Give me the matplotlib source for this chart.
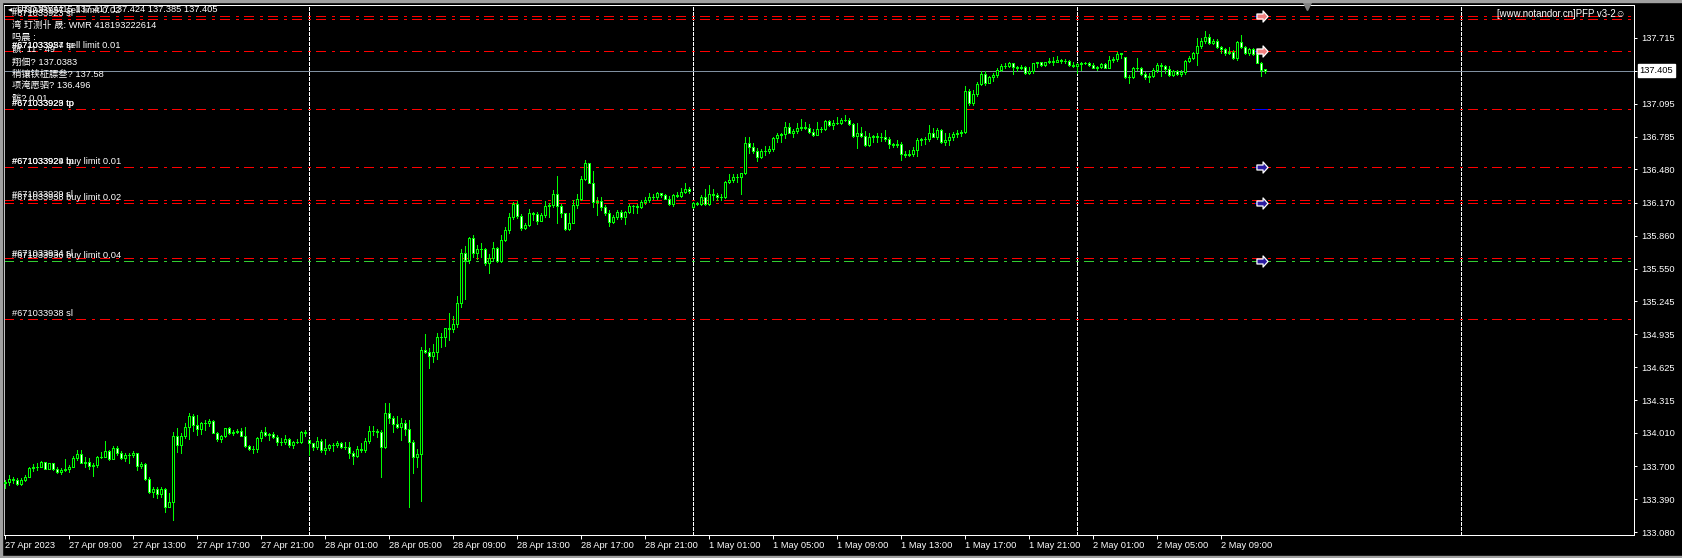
import numpy as np
import pandas as pd
import matplotlib
matplotlib.use("Agg")
import matplotlib.pyplot as plt
from matplotlib.path import Path
from matplotlib.patches import Rectangle
from matplotlib.transforms import blended_transform_factory

plt.rcParams['font.family'] = ['Liberation Sans', 'Noto Sans CJK SC', 'DejaVu Sans']
plt.rcParams['lines.scale_dashes'] = False

# ---- USDJPY M15 bars ----
opens = [
    133.539, 133.548, 133.576, 133.573, 133.529, 133.570, 133.601, 133.679, 133.689, 133.692,
    133.739, 133.676, 133.726, 133.673, 133.642, 133.664, 133.670, 133.695, 133.773, 133.810,
    133.732, 133.742, 133.704, 133.710, 133.782, 133.789, 133.842, 133.767, 133.867, 133.820,
    133.776, 133.804, 133.807, 133.820, 133.704, 133.717, 133.579, 133.460, 133.482, 133.438,
    133.485, 133.320, 133.360, 133.982, 133.898, 133.982, 134.064, 134.170, 134.085, 134.045,
    134.101, 134.107, 134.123, 134.014, 133.951, 133.982, 134.054, 134.007, 134.023, 134.029,
    133.985, 133.885, 133.857, 133.860, 133.963, 134.023, 133.991, 133.998, 133.976, 133.929,
    133.926, 133.954, 133.898, 133.923, 133.923, 134.016, 133.945, 133.913, 133.882, 133.935,
    133.851, 133.866, 133.898, 133.901, 133.913, 133.882, 133.876, 133.826, 133.798, 133.857,
    133.851, 133.935, 134.032, 134.032, 134.023, 133.876, 134.195, 134.148, 134.095, 134.063,
    134.101, 134.045, 133.929, 133.788, 133.810, 134.788, 134.772, 134.735, 134.766, 134.913,
    134.907, 134.991, 134.985, 135.032, 135.225, 135.700, 135.631, 135.835, 135.694, 135.731,
    135.731, 135.607, 135.647, 135.741, 135.625, 135.819, 135.913, 136.031, 136.156, 136.044,
    135.928, 135.956, 136.069, 136.063, 135.999, 136.053, 136.138, 136.144, 136.247, 136.138,
    136.069, 135.919, 135.981, 136.147, 136.200, 136.390, 136.537, 136.356, 136.178, 136.184,
    136.125, 136.075, 135.991, 136.031, 136.084, 136.031, 136.084, 136.138, 136.138, 136.131,
    136.172, 136.194, 136.225, 136.225, 136.256, 136.241, 136.206, 136.153, 136.241, 136.235,
    136.272, 136.294, 136.125, 136.163, 136.159, 136.225, 136.153, 136.247, 136.244, 136.219,
    136.219, 136.362, 136.381, 136.406, 136.406, 136.444, 136.725, 136.687, 136.656, 136.600,
    136.656, 136.650, 136.672, 136.772, 136.803, 136.813, 136.875, 136.825, 136.841, 136.866,
    136.875, 136.869, 136.834, 136.803, 136.856, 136.860, 136.938, 136.897, 136.913, 136.919,
    136.944, 136.947, 136.906, 136.794, 136.819, 136.794, 136.709, 136.781, 136.791, 136.781,
    136.781, 136.763, 136.716, 136.709, 136.719, 136.622, 136.616, 136.622, 136.663, 136.756,
    136.763, 136.763, 136.819, 136.788, 136.850, 136.741, 136.756, 136.781, 136.813, 136.825,
    136.834, 137.219, 137.106, 137.188, 137.281, 137.375, 137.294, 137.344, 137.366, 137.413,
    137.450, 137.450, 137.475, 137.438, 137.428, 137.444, 137.387, 137.406, 137.475, 137.484,
    137.459, 137.484, 137.497, 137.491, 137.506, 137.497, 137.500, 137.459, 137.453, 137.469,
    137.481, 137.481, 137.459, 137.434, 137.444, 137.469, 137.434, 137.506, 137.512, 137.562,
    137.531, 137.344, 137.344, 137.428, 137.428, 137.372, 137.344, 137.356, 137.412, 137.459,
    137.450, 137.419, 137.366, 137.406, 137.375, 137.391, 137.500, 137.528, 137.575, 137.637,
    137.688, 137.725, 137.669, 137.688, 137.625, 137.606, 137.569, 137.584, 137.522, 137.678,
    137.625, 137.569, 137.606, 137.562, 137.481, 137.417,
]
highs = [
    133.570, 133.613, 133.601, 133.585, 133.585, 133.617, 133.695, 133.717, 133.726, 133.751,
    133.742, 133.732, 133.732, 133.695, 133.679, 133.764, 133.710, 133.795, 133.851, 133.851,
    133.782, 133.773, 133.726, 133.795, 133.835, 133.935, 133.851, 133.889, 133.889, 133.842,
    133.820, 133.820, 133.842, 133.826, 133.742, 133.726, 133.595, 133.507, 133.507, 133.507,
    133.492, 133.451, 134.023, 134.054, 134.007, 134.101, 134.195, 134.189, 134.179, 134.117,
    134.132, 134.139, 134.132, 134.023, 133.992, 134.060, 134.064, 134.039, 134.045, 134.054,
    134.070, 133.901, 133.889, 133.976, 134.038, 134.070, 134.013, 134.016, 133.991, 133.960,
    133.991, 133.966, 133.938, 133.951, 134.029, 134.038, 133.951, 133.920, 133.976, 133.951,
    133.954, 133.907, 133.913, 133.935, 133.929, 133.929, 133.923, 133.842, 133.888, 133.913,
    133.966, 134.079, 134.079, 134.048, 134.038, 134.288, 134.288, 134.170, 134.170, 134.148,
    134.132, 134.132, 133.945, 133.857, 134.813, 134.938, 134.804, 134.841, 134.944, 134.950,
    134.997, 135.132, 135.107, 135.294, 135.735, 135.763, 135.844, 135.866, 135.772, 135.788,
    135.741, 135.688, 135.797, 135.756, 135.866, 135.938, 136.069, 136.178, 136.184, 136.059,
    135.975, 136.106, 136.084, 136.084, 136.069, 136.184, 136.163, 136.288, 136.419, 136.153,
    136.075, 136.075, 136.194, 136.250, 136.419, 136.569, 136.544, 136.466, 136.219, 136.225,
    136.147, 136.100, 136.053, 136.100, 136.100, 136.094, 136.156, 136.147, 136.153, 136.194,
    136.219, 136.256, 136.250, 136.272, 136.263, 136.247, 136.231, 136.250, 136.269, 136.303,
    136.350, 136.313, 136.178, 136.178, 136.241, 136.294, 136.334, 136.294, 136.256, 136.247,
    136.372, 136.437, 136.437, 136.437, 136.450, 136.787, 136.787, 136.731, 136.678, 136.669,
    136.700, 136.700, 136.781, 136.825, 136.819, 136.928, 136.919, 136.856, 136.913, 136.953,
    136.928, 136.906, 136.856, 136.928, 136.881, 136.944, 136.944, 136.944, 136.975, 136.959,
    136.991, 136.966, 136.913, 136.913, 136.875, 136.841, 136.819, 136.803, 136.819, 136.819,
    136.850, 136.781, 136.731, 136.756, 136.741, 136.653, 136.663, 136.694, 136.772, 136.772,
    136.781, 136.897, 136.866, 136.872, 136.856, 136.825, 136.819, 136.834, 136.850, 136.850,
    137.263, 137.231, 137.225, 137.303, 137.406, 137.406, 137.356, 137.381, 137.428, 137.469,
    137.481, 137.488, 137.481, 137.450, 137.459, 137.450, 137.444, 137.481, 137.491, 137.491,
    137.491, 137.522, 137.531, 137.544, 137.516, 137.512, 137.503, 137.491, 137.475, 137.487,
    137.491, 137.491, 137.475, 137.453, 137.475, 137.475, 137.547, 137.531, 137.584, 137.575,
    137.538, 137.366, 137.444, 137.528, 137.444, 137.397, 137.381, 137.428, 137.481, 137.475,
    137.456, 137.450, 137.412, 137.412, 137.412, 137.506, 137.544, 137.584, 137.709, 137.709,
    137.778, 137.750, 137.703, 137.700, 137.637, 137.616, 137.631, 137.600, 137.688, 137.741,
    137.635, 137.616, 137.616, 137.575, 137.491, 137.424,
]
lows = [
    133.492, 133.523, 133.545, 133.523, 133.523, 133.560, 133.595, 133.657, 133.664, 133.689,
    133.670, 133.670, 133.667, 133.632, 133.623, 133.657, 133.648, 133.689, 133.757, 133.726,
    133.689, 133.670, 133.607, 133.695, 133.773, 133.782, 133.757, 133.764, 133.804, 133.764,
    133.751, 133.726, 133.782, 133.664, 133.685, 133.570, 133.451, 133.407, 133.398, 133.407,
    133.273, 133.313, 133.195, 133.835, 133.826, 133.960, 133.951, 134.032, 133.992, 133.998,
    134.039, 134.076, 134.007, 133.938, 133.923, 133.976, 134.001, 133.992, 134.007, 133.982,
    133.876, 133.851, 133.826, 133.835, 133.935, 133.982, 133.945, 133.960, 133.898, 133.898,
    133.907, 133.876, 133.873, 133.913, 133.913, 133.982, 133.804, 133.851, 133.857, 133.835,
    133.813, 133.851, 133.841, 133.876, 133.873, 133.857, 133.773, 133.720, 133.788, 133.829,
    133.829, 133.913, 133.991, 133.976, 133.601, 133.873, 134.107, 134.023, 134.054, 133.945,
    133.991, 133.320, 133.638, 133.695, 133.376, 134.757, 134.622, 134.679, 134.704, 134.819,
    134.829, 134.882, 134.960, 135.007, 135.194, 135.266, 135.600, 135.663, 135.638, 135.656,
    135.585, 135.513, 135.631, 135.616, 135.616, 135.813, 135.888, 136.016, 136.022, 135.913,
    135.919, 135.950, 136.006, 135.969, 135.999, 136.038, 136.038, 136.131, 135.975, 136.031,
    135.913, 135.913, 135.981, 136.116, 136.194, 136.381, 136.350, 136.131, 136.053, 136.100,
    136.053, 135.950, 135.981, 136.013, 136.013, 135.969, 136.075, 136.075, 136.075, 136.116,
    136.156, 136.178, 136.200, 136.206, 136.225, 136.200, 136.144, 136.138, 136.219, 136.225,
    136.256, 136.256, 136.116, 136.147, 136.147, 136.147, 136.150, 136.194, 136.194, 136.194,
    136.209, 136.356, 136.366, 136.366, 136.250, 136.437, 136.637, 136.637, 136.562, 136.584,
    136.616, 136.630, 136.656, 136.741, 136.741, 136.772, 136.819, 136.781, 136.825, 136.850,
    136.856, 136.825, 136.794, 136.803, 136.834, 136.850, 136.888, 136.860, 136.906, 136.906,
    136.934, 136.897, 136.781, 136.684, 136.781, 136.700, 136.703, 136.741, 136.741, 136.750,
    136.750, 136.684, 136.688, 136.688, 136.569, 136.600, 136.606, 136.606, 136.606, 136.709,
    136.719, 136.750, 136.781, 136.763, 136.731, 136.709, 136.709, 136.756, 136.781, 136.794,
    136.819, 137.084, 137.084, 137.169, 137.275, 137.272, 137.288, 137.313, 137.350, 137.406,
    137.428, 137.438, 137.375, 137.406, 137.419, 137.375, 137.375, 137.387, 137.444, 137.453,
    137.453, 137.475, 137.459, 137.484, 137.475, 137.481, 137.453, 137.444, 137.381, 137.412,
    137.466, 137.453, 137.428, 137.412, 137.428, 137.428, 137.428, 137.491, 137.500, 137.522,
    137.334, 137.294, 137.334, 137.412, 137.366, 137.325, 137.303, 137.344, 137.397, 137.356,
    137.381, 137.356, 137.360, 137.366, 137.356, 137.375, 137.491, 137.512, 137.459, 137.616,
    137.669, 137.656, 137.656, 137.616, 137.569, 137.553, 137.559, 137.512, 137.506, 137.616,
    137.560, 137.553, 137.553, 137.475, 137.356, 137.385,
]
closes = [
    133.548, 133.576, 133.573, 133.529, 133.570, 133.601, 133.679, 133.689, 133.692, 133.739,
    133.676, 133.726, 133.673, 133.642, 133.664, 133.670, 133.695, 133.773, 133.810, 133.732,
    133.742, 133.704, 133.710, 133.782, 133.789, 133.842, 133.767, 133.867, 133.820, 133.776,
    133.804, 133.807, 133.820, 133.704, 133.717, 133.579, 133.460, 133.482, 133.438, 133.485,
    133.320, 133.360, 133.982, 133.898, 133.982, 134.064, 134.170, 134.085, 134.045, 134.101,
    134.107, 134.123, 134.014, 133.951, 133.982, 134.054, 134.007, 134.023, 134.029, 133.985,
    133.885, 133.857, 133.860, 133.963, 134.023, 133.991, 133.998, 133.976, 133.929, 133.926,
    133.954, 133.898, 133.923, 133.923, 134.016, 134.013, 133.913, 133.882, 133.935, 133.851,
    133.866, 133.898, 133.901, 133.913, 133.882, 133.876, 133.826, 133.798, 133.857, 133.851,
    133.935, 134.032, 134.032, 134.023, 133.876, 134.195, 134.148, 134.095, 134.063, 134.101,
    134.045, 133.929, 133.788, 133.810, 134.788, 134.772, 134.735, 134.766, 134.913, 134.907,
    134.991, 134.985, 135.032, 135.225, 135.700, 135.631, 135.835, 135.694, 135.731, 135.731,
    135.607, 135.647, 135.741, 135.625, 135.819, 135.913, 136.031, 136.156, 136.044, 135.928,
    135.956, 136.069, 136.063, 135.999, 136.053, 136.138, 136.144, 136.247, 136.138, 136.069,
    135.919, 135.981, 136.147, 136.200, 136.390, 136.537, 136.356, 136.178, 136.184, 136.125,
    136.075, 135.991, 136.031, 136.084, 136.031, 136.084, 136.138, 136.138, 136.131, 136.172,
    136.194, 136.225, 136.225, 136.256, 136.241, 136.206, 136.153, 136.241, 136.235, 136.272,
    136.294, 136.281, 136.163, 136.159, 136.225, 136.153, 136.247, 136.244, 136.219, 136.219,
    136.362, 136.381, 136.406, 136.406, 136.444, 136.725, 136.687, 136.656, 136.600, 136.656,
    136.650, 136.672, 136.772, 136.803, 136.813, 136.875, 136.825, 136.841, 136.866, 136.875,
    136.869, 136.834, 136.803, 136.856, 136.860, 136.938, 136.897, 136.913, 136.919, 136.944,
    136.947, 136.906, 136.794, 136.819, 136.794, 136.709, 136.781, 136.791, 136.781, 136.781,
    136.763, 136.716, 136.709, 136.719, 136.622, 136.616, 136.622, 136.663, 136.756, 136.763,
    136.763, 136.819, 136.788, 136.850, 136.741, 136.756, 136.781, 136.813, 136.825, 136.834,
    137.219, 137.106, 137.188, 137.281, 137.375, 137.294, 137.344, 137.366, 137.413, 137.450,
    137.450, 137.475, 137.438, 137.428, 137.444, 137.387, 137.406, 137.475, 137.484, 137.459,
    137.484, 137.497, 137.491, 137.506, 137.497, 137.500, 137.459, 137.453, 137.469, 137.481,
    137.481, 137.459, 137.434, 137.444, 137.469, 137.434, 137.506, 137.512, 137.562, 137.569,
    137.344, 137.344, 137.428, 137.428, 137.372, 137.344, 137.356, 137.412, 137.459, 137.450,
    137.419, 137.366, 137.406, 137.375, 137.391, 137.500, 137.528, 137.575, 137.637, 137.688,
    137.725, 137.669, 137.688, 137.625, 137.606, 137.569, 137.584, 137.522, 137.678, 137.625,
    137.569, 137.606, 137.562, 137.481, 137.412, 137.405,
]

symbol = "USDJPY,M15"
price_ticks = ["137.715", "137.405", "137.095", "136.785", "136.480", "136.170", "135.860", "135.550",
               "135.245", "134.935", "134.625", "134.315", "134.010", "133.700", "133.390", "133.080"]

# pending-order / tp / sl levels
red_levels = [137.918, 137.893, 137.590, 137.047, 136.500, 136.191, 136.168, 135.647, 135.076]
green_levels = [135.622]
label_prices = [137.918, 137.893, 137.590, 137.590, 137.047, 137.047, 136.500, 136.500,
                136.191, 136.168, 135.647, 135.622, 135.076]
label_texts = ["#671033957 sell limit 0.02", "#671033923 sl", "#671033924 sell limit 0.01",
               "#671033957 tp", "#671033923 tp", "#671033929 tp", "#671033929 buy limit 0.01",
               "#671033924 tp", "#671033929 sl", "#671033938 buy limit 0.02", "#671033934 sl",
               "#671033936 buy limit 0.04", "#671033938 sl"]
sell_arrows = [137.918, 137.590]
buy_arrows = [136.500, 136.168, 135.622]
blue_marks = [137.918, 137.590, 137.047, 136.500, 136.168]

info_lines = ["湾 玎测卝 晟: WMR 418193222614", "吗晨 :", "髌: 11 - 49", "翔佃? 137.0383",
              "稍镶铗柾膘叁? 137.58", "项淹愿驷? 136.496", "髌? 0.01"]
brand = "[www.notandor.cn]PFP v3-2\u263a"

# ---- time axis ----
n = len(closes)
seg1 = pd.date_range("2023-04-27 05:00", "2023-04-28 23:45", freq="15min")
seg2 = pd.date_range("2023-05-01 00:00", periods=n - len(seg1), freq="15min")
times = seg1.append(seg2)
tick_idx = np.arange(0, n, 16)
tick_lbl = [f"{times[i].day} {times[i]:%b %Y}" if i == 0 else f"{times[i].day} {times[i]:%b %H:%M}"
            for i in tick_idx]
days = times.normalize()
seps = list(np.where(days[1:] != days[:-1])[0] + 1)
next_day = days[-1] + pd.Timedelta(days=1)
seps.append(n - 1 + int((next_day - times[-1]) / pd.Timedelta("15min")))

# ---- figure ----
W, H = 1682, 558
fig = plt.figure(figsize=(W / 100, H / 100), dpi=100, facecolor='black')
ax = fig.add_axes([4 / W, 23 / H, 1630 / W, 530.5 / H])
ax.set_facecolor('black')
ax.set_xlim(-0.25, 407.25)
ax.set_ylim(133.054, 138.026)

o = np.array(opens); h = np.array(highs); l = np.array(lows); c = np.array(closes)
x = np.arange(n)
lime = '#00ff00'
px_lw = 0.72

# separators
for s in seps:
    ax.axvline(s, color='white', lw=px_lw, linestyle=(0, (2.2, 1.4)), antialiased=False, zorder=1)

# order levels
dashdot = (0, (6.5, 4.7, 1.8, 4.3))
for p in red_levels:
    ax.axhline(p, color='#ff0000', lw=px_lw, linestyle=dashdot, antialiased=False, zorder=2)
for p in green_levels:
    ax.axhline(p, color='#32cd32', lw=px_lw, linestyle=dashdot, antialiased=False, zorder=2)

# bid line
ax.axhline(c[-1], color='#8090a0', lw=px_lw, antialiased=False, zorder=2)

# candles
ax.vlines(x, np.minimum(l, np.minimum(o, c)), np.maximum(h, np.maximum(o, c)),
          color=lime, lw=px_lw, antialiased=False, zorder=3)
bull = c >= o
ax.bar(x, np.abs(c - o), bottom=np.minimum(o, c), width=0.5,
       color=np.where(bull, 'black', 'white'), edgecolor=lime, linewidth=px_lw,
       antialiased=False, zorder=4)

# blue order marks and arrows
ax.hlines(blue_marks, n - 3.5, n - 0.5, color='#0000ff', lw=px_lw, antialiased=False, zorder=5)
arrow = Path([(-1, 0.45), (0.1, 0.45), (0.1, 1), (1, 0), (0.1, -1), (0.1, -0.45), (-1, -0.45), (-1, 0.45)],
             [Path.MOVETO] + [Path.LINETO] * 6 + [Path.CLOSEPOLY])
ax.plot(np.full(len(sell_arrows), n - 1.8), sell_arrows, ls='none', marker=arrow, ms=8,
        mfc='#f08080', mec='white', mew=0.9, zorder=6)
ax.plot(np.full(len(buy_arrows), n - 1.8), buy_arrows, ls='none', marker=arrow, ms=8,
        mfc='#2a1aa0', mec='white', mew=0.9, zorder=6)

# level labels (they overlap on the chart, as in the terminal)
for p, s in zip(label_prices, label_texts):
    ax.annotate(s, xy=(0, p), xycoords=('axes fraction', 'data'), xytext=(5.8, 0.6),
                textcoords='offset points', ha='left', va='bottom', color='white',
                fontsize=6.7, zorder=7)

# chart shift marker
ax.plot(n + 9.5, 0.997, marker='v', ms=6, color='#808080',
        transform=blended_transform_factory(ax.transData, ax.transAxes), clip_on=False, zorder=8)

# axes styling
for sp in ax.spines.values():
    sp.set_color('white')
    sp.set_linewidth(px_lw)
ax.spines['left'].set_color('#c0c0c0')
ax.yaxis.tick_right()
ax.set_yticks([float(t) for t in price_ticks])
ax.set_yticklabels(price_ticks)
ax.tick_params(axis='y', colors='white', length=2.5, width=px_lw, pad=2.5, labelsize=6.7)
ax.set_xticks(tick_idx)
ax.set_xticklabels(tick_lbl)
ax.tick_params(axis='x', colors='white', length=3, width=px_lw, pad=1.5, labelsize=6.7)
for t in ax.get_xticklabels():
    t.set_ha('left')

# current price box
ax.annotate(f"{c[-1]:.3f}", xy=(1, c[-1]), xycoords=('axes fraction', 'data'), xytext=(4, 0),
            textcoords='offset points', ha='left', va='center', color='black', fontsize=6.7,
            bbox=dict(boxstyle='square,pad=0.2', facecolor='white', edgecolor='white'))

# top-left caption and info block
def fxy(xp, yp):
    return xp / W, 1 - yp / H

fig.text(*fxy(17, 9), f"{symbol} {o[-1]:.3f} {h[-1]:.3f} {l[-1]:.3f} {c[-1]:.3f}",
         color='white', fontsize=6.7, ha='left', va='center')
fig.text(*fxy(8, 9), "\u25c2", color='white', fontsize=6, ha='left', va='center',
         family=['DejaVu Sans'])
for k, s in enumerate(info_lines):
    fig.text(*fxy(12, 25 + 12.3 * k), s, color='white', fontsize=6.7, ha='left', va='center')

fig.text(*fxy(1626, 14), brand, color='white', fontsize=6.9, ha='right', va='center')

# window frame
fig.patches.append(Rectangle((0, 1 - 2 / H), 1, 2 / H, transform=fig.transFigure, color='#a0a0a0'))
fig.patches.append(Rectangle((0, 0), 1, 2 / H, transform=fig.transFigure, color='#a0a0a0'))
fig.patches.append(Rectangle((0, 0), 2 / W, 1, transform=fig.transFigure, color='#a0a0a0'))

fig.savefig("out.png", dpi=100, facecolor='black')
